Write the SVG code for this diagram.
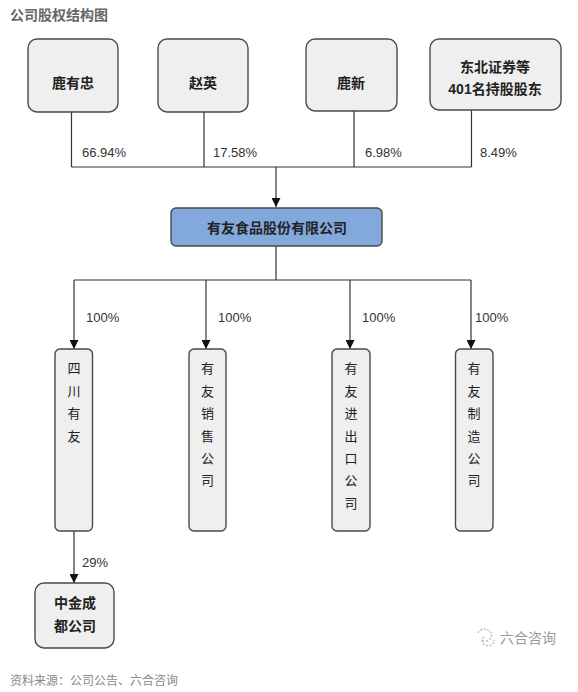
<svg xmlns="http://www.w3.org/2000/svg" width="578" height="692" viewBox="0 0 578 692">
<style>
text{font-family:"Liberation Sans","Noto Sans CJK SC",sans-serif;}
.box{fill:#efefef;stroke:#4a4a4a;stroke-width:1.4;}
.main{fill:#82a8dc;stroke:#4a4a4a;stroke-width:1.4;}
.lbl{font-size:14px;font-weight:bold;fill:#222;text-anchor:middle;}
.vt{font-size:13px;fill:#222;text-anchor:middle;}
.pct{font-size:13px;fill:#333;}
.ln{fill:none;stroke:#333;stroke-width:1.2;}
.gray{fill:#9a9a9a;}
</style>
<defs>
<marker id="ah" viewBox="0 0 10 10" refX="10" refY="5" markerWidth="9" markerHeight="9" markerUnits="userSpaceOnUse" orient="auto">
<path d="M0,0 L10,5 L0,10 z" fill="#111"/>
</marker>
</defs>
<rect width="578" height="692" fill="#fff"/>
<text x="10" y="20" style="font-size:14px;font-weight:bold;fill:#666;">公司股权结构图</text>

<g id="connectors">
<path class="ln" d="M71.5,112 V167 M204,112 V167 M354,111 V167 M471.5,110 V167 M71.5,167 H471.5"/>
<path class="ln" d="M276,167 V207" marker-end="url(#ah)"/>
<path class="ln" d="M276,246 V280 M74,280 H471"/>
<path class="ln" d="M74,280 V349" marker-end="url(#ah)"/>
<path class="ln" d="M206,280 V349" marker-end="url(#ah)"/>
<path class="ln" d="M350,280 V349" marker-end="url(#ah)"/>
<path class="ln" d="M471,280 V349" marker-end="url(#ah)"/>
<path class="ln" d="M74,531 V583" marker-end="url(#ah)"/>
<text class="pct" x="82" y="157">66.94%</text>
<text class="pct" x="213" y="157">17.58%</text>
<text class="pct" x="365" y="157">6.98%</text>
<text class="pct" x="480" y="157">8.49%</text>
<text class="pct" x="86" y="322">100%</text>
<text class="pct" x="218" y="322">100%</text>
<text class="pct" x="362" y="322">100%</text>
<text class="pct" x="475" y="322">100%</text>
<text class="pct" x="82" y="567">29%</text>
</g>

<g id="n1"><rect class="box" x="28" y="39" width="90" height="73" rx="9"/><text class="lbl" x="73" y="88">鹿有忠</text></g>
<g id="n2"><rect class="box" x="158" y="39" width="90" height="73" rx="9"/><text class="lbl" x="203" y="88">赵英</text></g>
<g id="n3"><rect class="box" x="306" y="39" width="91" height="72" rx="9"/><text class="lbl" x="351" y="88">鹿新</text></g>
<g id="n4"><rect class="box" x="430" y="39" width="131" height="71" rx="9"/><text class="lbl" x="495" y="72">东北证券等</text><text class="lbl" x="495" y="94">401名持股股东</text></g>

<g id="main"><rect class="main" x="171" y="208" width="211" height="38" rx="5"/><text class="lbl" x="277" y="233">有友食品股份有限公司</text></g>

<g id="c1"><rect class="box" x="55" y="349" width="37.5" height="182" rx="5"/>
<text class="vt" x="74" y="373">四</text><text class="vt" x="74" y="396">川</text><text class="vt" x="74" y="418">有</text><text class="vt" x="74" y="441">友</text></g>
<g id="c2"><rect class="box" x="189" y="349" width="37" height="182" rx="5"/>
<text class="vt" x="207.5" y="373">有</text><text class="vt" x="207.5" y="396">友</text><text class="vt" x="207.5" y="418">销</text><text class="vt" x="207.5" y="441">售</text><text class="vt" x="207.5" y="463">公</text><text class="vt" x="207.5" y="485">司</text></g>
<g id="c3"><rect class="box" x="332" y="349" width="38" height="182" rx="5"/>
<text class="vt" x="351" y="373">有</text><text class="vt" x="351" y="396">友</text><text class="vt" x="351" y="418">进</text><text class="vt" x="351" y="441">出</text><text class="vt" x="351" y="463">口</text><text class="vt" x="351" y="485">公</text><text class="vt" x="351" y="508">司</text></g>
<g id="c4"><rect class="box" x="455.5" y="349" width="37.5" height="182" rx="5"/>
<text class="vt" x="474" y="373">有</text><text class="vt" x="474" y="396">友</text><text class="vt" x="474" y="418">制</text><text class="vt" x="474" y="441">造</text><text class="vt" x="474" y="463">公</text><text class="vt" x="474" y="485">司</text></g>

<g id="n5"><rect class="box" x="35" y="583" width="79" height="65" rx="9"/><text class="lbl" x="75" y="608">中金成</text><text class="lbl" x="75" y="631">都公司</text></g>

<g id="watermark">
<path d="M478,633 a7,6 0 1 1 5,8 M484,637 a6,5 0 1 0 10,3" fill="none" stroke="#b5b5b5" stroke-width="1.3" stroke-dasharray="2 1.5"/>
<text x="500" y="643" style="font-size:14px;fill:#9a9a9a;">六合咨询</text>
</g>
<text x="10" y="685" style="font-size:12px;fill:#8a8a8a;">资料来源：公司公告、六合咨询</text>
</svg>
